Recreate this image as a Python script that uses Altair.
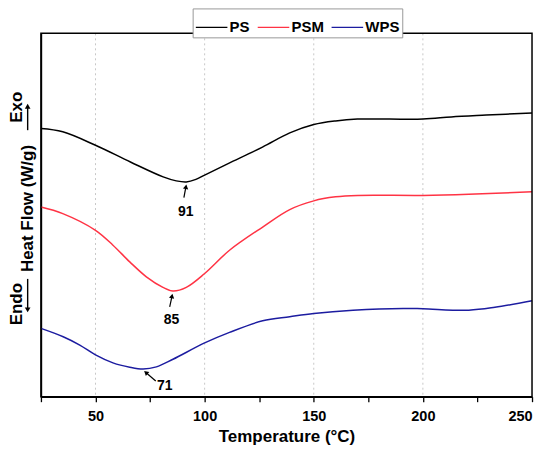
import altair as alt
import pandas as pd

# ---- data (arbitrary heat-flow units, stacked) ----
series_names = ["PS", "PSM", "WPS"]
series_colors = ["#000000", "#ff3344", "#1c1ca0"]

T_PS = [25, 35, 50, 66, 81, 87, 91.6, 96, 100, 111, 126.5, 139, 150, 160, 170, 200, 213, 229, 250]
V_PS = [73.8, 72.9, 69.2, 64.6, 60.5, 59.4, 59.1, 59.8, 61.0, 64.2, 68.7, 72.6, 74.9, 75.9, 76.4, 76.4, 77.0, 77.5, 78.1]

T_PSM = [25, 35, 50, 58, 65.7, 73.3, 80.9, 85.5, 91.6, 100, 111.4, 126.6, 139, 150, 160, 170, 200, 221, 250]
V_PSM = [52.2, 50.4, 45.8, 41.7, 37.1, 33.0, 30.1, 29.1, 30.1, 33.9, 40.3, 46.7, 51.5, 53.9, 55.0, 55.4, 55.4, 55.7, 56.4]

T_WPS = [25, 35.2, 42.8, 50, 58, 65.7, 71.8, 77.9, 85.5, 100, 111.4, 126.6, 139, 150, 168, 191, 200, 221, 233, 250]
V_WPS = [18.8, 16.5, 14.2, 11.5, 9.3, 8.1, 7.6, 8.2, 10.3, 14.8, 17.7, 20.9, 22.0, 22.9, 23.8, 24.3, 24.2, 23.8, 24.6, 26.4]

grid_T = [50, 100, 150, 200]
tick_T = [25, 50, 75, 100, 125, 150, 175, 200, 225, 250]

peak_labels = ["91", "85", "71"]
label_T = [91.3, 84.8, 81.7]
label_V = [50.9, 21.1, 2.9]
arrow_tail_T = [90.5, 84.0, 77.6]
arrow_tail_V = [54.8, 24.7, 4.3]
arrow_head_T = [91.45, 85.05, 73.07]
arrow_head_V = [57.8, 27.7, 6.65]
arrow_angle = [10, 11, 311]

# ---- tables ----
rows = []
for name, ts, vs in [("PS", T_PS, V_PS), ("PSM", T_PSM, V_PSM), ("WPS", T_WPS, V_WPS)]:
    for t, v in zip(ts, vs):
        rows.append({"series": name, "T": t, "v": v})
lines_df = pd.DataFrame(rows)
grid_df = pd.DataFrame({"T": grid_T})
ann_df = pd.DataFrame({
    "label": peak_labels, "lT": label_T, "lV": label_V,
    "T": arrow_tail_T, "v": arrow_tail_V,
    "T2": arrow_head_T, "v2": arrow_head_V, "angle": arrow_angle,
})
one_df = pd.DataFrame({"k": [0]})

FONT = "Liberation Sans"
W, H = 492, 364
xscale = alt.Scale(domain=[25, 250], nice=False, zero=False)
yscale = alt.Scale(domain=[0, 100], nice=False, zero=False)

NB = "\u00a0"
ytitle = [
    "Endo" + NB * 34 + "Exo",
    "Heat Flow (W/g)",
]

x_axis = alt.Axis(
    values=tick_T,
    labelExpr="datum.value % 50 == 0 && datum.value > 25 ? datum.label : ''",
    grid=False, title="Temperature (°C)",
    labelFont=FONT, labelFontSize=14.5, labelFontWeight="bold", labelColor="black",
    labelPadding=8,
    titleFont=FONT, titleFontSize=17, titleFontWeight="bold", titleColor="black",
    titlePadding=5,
    tickSize=5, tickColor="black", tickWidth=1.3,
    domainColor="black", domainWidth=1.5,
)
y_axis = alt.Axis(
    labels=False, ticks=False, grid=False, title=ytitle,
    titleFont=FONT, titleFontSize=17, titleFontWeight="bold", titleColor="black",
    titleAngle=270, titleAlign="center", titleBaseline="alphabetic",
    titleX=-19.5, titleY=175, titleLineHeight=11.5,
    domainColor="black", domainWidth=1.5,
)

grid = alt.Chart(grid_df).mark_rule(color="#c8c8c8", strokeDash=[2, 3], strokeWidth=1).encode(
    x=alt.X("T:Q", scale=xscale, axis=x_axis),
)

frame = alt.Chart(one_df).mark_rect(fill=None, stroke="black", strokeWidth=1.5).encode(
    x=alt.value(0), x2=alt.value(W), y=alt.value(0), y2=alt.value(H),
)

# Exo / Endo arrows beside the y-axis title
exo_shaft = alt.Chart(one_df).mark_rule(color="black", strokeWidth=1.4).encode(
    x=alt.value(-13.3), y=alt.value(97), y2=alt.value(74),
)
exo_head = alt.Chart(one_df).mark_point(shape="triangle-up", filled=True, color="black", size=32, opacity=1).encode(
    x=alt.value(-13.3), y=alt.value(73),
)
endo_shaft = alt.Chart(one_df).mark_rule(color="black", strokeWidth=1.4).encode(
    x=alt.value(-13.3), y=alt.value(246), y2=alt.value(276),
)
endo_head = alt.Chart(one_df).mark_point(shape="triangle-down", filled=True, color="black", size=32, opacity=1).encode(
    x=alt.value(-13.3), y=alt.value(277),
)

lines = alt.Chart(lines_df).mark_line(strokeWidth=1.5, interpolate="catmull-rom").encode(
    x=alt.X("T:Q", scale=xscale, axis=x_axis),
    y=alt.Y("v:Q", scale=yscale, axis=y_axis),
    color=alt.Color(
        "series:N",
        scale=alt.Scale(domain=series_names, range=series_colors),
        legend=alt.Legend(
            title=None, orient="none", direction="horizontal",
            legendX=152, legendY=-25,
            symbolType="stroke", symbolSize=1000, symbolStrokeWidth=1.5,
            labelFont=FONT, labelFontSize=15, labelFontWeight="bold", labelColor="black",
            labelOffset=1, columnPadding=4, padding=2,
            strokeColor="#999999", fillColor="white",
        ),
    ),
    order=alt.Order("T:Q"),
)

arrows = alt.Chart(ann_df).mark_rule(color="black", strokeWidth=1.2).encode(
    x=alt.X("T:Q", scale=xscale, axis=x_axis),
    y=alt.Y("v:Q", scale=yscale, axis=y_axis),
    x2="T2:Q", y2="v2:Q",
)
heads = alt.Chart(ann_df).mark_point(shape="triangle-up", filled=True, color="black", size=28, opacity=1).encode(
    x=alt.X("T2:Q", scale=xscale, axis=x_axis),
    y=alt.Y("v2:Q", scale=yscale, axis=y_axis),
    angle=alt.Angle("angle:Q", scale=None),
)
labels = alt.Chart(ann_df).mark_text(font=FONT, fontSize=14, fontWeight="bold", color="black", baseline="middle", align="center").encode(
    x=alt.X("lT:Q", scale=xscale, axis=x_axis),
    y=alt.Y("lV:Q", scale=yscale, axis=y_axis),
    text="label:N",
)

chart = alt.layer(
    grid, lines, arrows, heads, labels, frame,
    exo_shaft, exo_head, endo_shaft, endo_head,
).properties(
    width=W, height=H,
    background="white",
    autosize=alt.AutoSizeParams(type="none"),
    padding={"left": 33, "top": 25, "right": 10, "bottom": 50},
).configure_view(stroke=None)

chart.save("out.html", embed_options={"renderer": "svg", "actions": False})
